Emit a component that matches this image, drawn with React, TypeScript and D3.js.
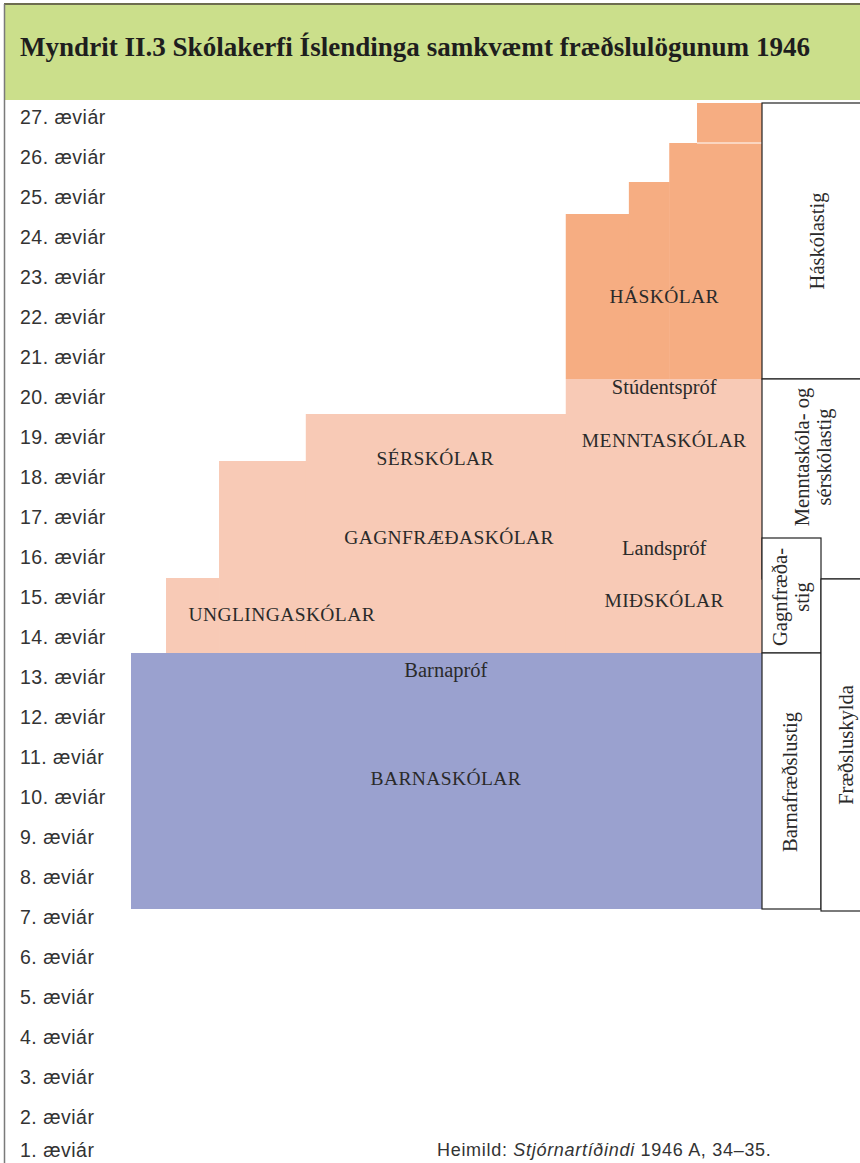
import React from "react";
import * as d3 from "d3";

const W = 860;
const H = 1163;

const title = "Myndrit II.3 Skólakerfi Íslendinga samkvæmt fræðslulögunum 1946";
const ageLabels = [27, 26, 25, 24, 23, 22, 21, 20, 19, 18, 17, 16, 15, 14, 13, 12, 11, 10, 9, 8, 7, 6, 5, 4, 3, 2, 1];
const ageSuffix = ". æviár";

// School blocks: stepped shapes. x in % of chart width, y in age units
const haskolarStepX = [68.9, 78.9, 85.3, 89.7];
const haskolarStepTop = [24.575, 25.375, 26.35, 27.35];
const haskolarBottom = 20.45;

const midStepX = [5.55, 13.95, 27.7, 68.9];
const midStepTop = [15.475, 18.4, 19.575, 20.45];
const midBottom = 13.6;

const barnaX = [0, 100];
const barnaY = [7.2, 13.6];

// Level boxes on right
const levelNames = ["Háskólastig", "Menntaskóla- og|sérskólastig", "Gagnfræða-|stig", "Barnafræðslustig", "Fræðsluskylda"];
const levelX0 = [100, 100, 100, 100, 109.35];
const levelX1 = [116, 116, 109.35, 109.35, 116];
const levelY0 = [20.45, 15.45, 13.6, 7.2, 7.15];
const levelY1 = [27.35, 20.45, 16.475, 13.6, 15.45];
const levelLabelX = [108.7, 108.0, 104.6, 104.4, 113.3];
const levelLabelY = [23.9, 18.5, 15.0, 10.375, 11.3];

// Block labels
const blockLabels = ["HÁSKÓLAR", "Stúdentspróf", "MENNTASKÓLAR", "Landspróf", "MIÐSKÓLAR", "SÉRSKÓLAR", "GAGNFRÆÐASKÓLAR", "UNGLINGASKÓLAR", "Barnapróf", "BARNASKÓLAR"];
const blockLabelX = [84.5, 84.5, 84.5, 84.5, 84.5, 48.2, 50.4, 23.9, 49.9, 49.9];
const blockLabelY = [22.525, 20.25, 18.925, 16.225, 14.925, 18.475, 16.5, 14.575, 13.175, 10.475];

const COL_HASKOLAR = "#f6ad82";
const COL_MID = "#f8cab6";
const COL_BARNA = "#9aa1cf";
const COL_TITLE = "#cbdf8b";

export default function App() {
  const x = d3.scaleLinear().domain([0, 100]).range([131, 762]);
  const y = d3.scaleLinear().domain([27, 1]).range([117, 1157]);

  const steps = (xs: number[], tops: number[], bottom: number) =>
    xs.map((x0, i) => {
      const x1 = i < xs.length - 1 ? xs[i + 1] : 100;
      return { x0, x1, top: tops[i], bottom };
    });

  const serif = "'Liberation Serif', 'Times New Roman', serif";
  const sans = "'Liberation Sans', Arial, sans-serif";

  return (
    <svg width={W} height={H} style={{ position: "absolute", left: 0, top: 0, background: "#fff" }} xmlns="http://www.w3.org/2000/svg">
      {/* Title band */}
      <rect x={4} y={4} width={W - 4} height={96} fill={COL_TITLE} />
      <line x1={4} x2={W} y1={4} y2={4} stroke="#6d6d4f" strokeWidth={2} />
      <line x1={4.5} x2={4.5} y1={4} y2={H} stroke="#7a7a7a" strokeWidth={1.5} />
      <text x={20} y={56} fontFamily={serif} fontWeight="bold" fontSize={27} fill="#1e1e1e" textLength={790} lengthAdjust="spacingAndGlyphs">
        {title}
      </text>

      {/* Age labels */}
      {ageLabels.map((a) => (
        <text key={a} x={20} y={Math.min(y(a), H - 13)} dy="0.35em" fontFamily={sans} fontSize={19.5} letterSpacing={0.5} fill="#333">
          {a + ageSuffix}
        </text>
      ))}

      {/* Barnaskólar */}
      <rect x={x(barnaX[0])} width={x(barnaX[1]) - x(barnaX[0])} y={y(barnaY[1])} height={y(barnaY[0]) - y(barnaY[1])} fill={COL_BARNA} />

      {/* Middle stepped block */}
      {steps(midStepX, midStepTop, midBottom).map((s, i) => (
        <rect key={"m" + i} x={x(s.x0)} width={x(s.x1) - x(s.x0) + 0.5} y={y(s.top)} height={y(s.bottom) - y(s.top)} fill={COL_MID} />
      ))}

      {/* Háskólar stepped block */}
      {steps(haskolarStepX, haskolarStepTop, haskolarBottom).map((s, i) => (
        <rect key={"h" + i} x={x(s.x0)} width={x(s.x1) - x(s.x0) + (i < 3 ? 0.5 : 0)} y={y(s.top)} height={y(s.bottom) - y(s.top)} fill={COL_HASKOLAR} />
      ))}
      <line x1={x(haskolarStepX[3])} x2={x(100)} y1={y(haskolarStepTop[2])} y2={y(haskolarStepTop[2])} stroke="#fff" strokeWidth={1} />

      {/* Level boxes */}
      {levelNames.map((n, i) => (
        <rect key={"lb" + i} x={x(levelX0[i])} width={x(levelX1[i]) - x(levelX0[i])} y={y(levelY1[i])} height={y(levelY0[i]) - y(levelY1[i])} fill="#fff" stroke="#222" strokeWidth={1.2} />
      ))}
      {levelNames.map((n, i) => {
        const lines = n.split("|");
        const lh = 22;
        const cx = x(levelLabelX[i]);
        const cy = y(levelLabelY[i]);
        return (
          <text key={"lt" + i} transform={`translate(${cx},${cy}) rotate(-90)`} textAnchor="middle" fontFamily={serif} fontSize={20.5} fill="#2a2a2a">
            {lines.map((l, j) => (
              <tspan key={j} x={0} y={(j - (lines.length - 1) / 2) * lh} dy="0.35em">
                {l}
              </tspan>
            ))}
          </text>
        );
      })}

      {/* Block labels */}
      {blockLabels.map((l, i) => {
        const caps = l === l.toUpperCase();
        return (
          <text key={"bl" + i} x={x(blockLabelX[i])} y={y(blockLabelY[i])} dy="0.35em" textAnchor="middle" fontFamily={serif} fontSize={caps ? 19.5 : 20.5} letterSpacing={caps ? 0.4 : 0} fill="#2a2a2a">
            {l}
          </text>
        );
      })}

      {/* Source */}
      <text x={437} y={H - 13} dy="0.35em" fontFamily={sans} fontSize={18} letterSpacing={0.7} fill="#333">
        Heimild: <tspan fontStyle="italic">Stjórnartíðindi</tspan> 1946 A, 34–35.
      </text>
    </svg>
  );
}
